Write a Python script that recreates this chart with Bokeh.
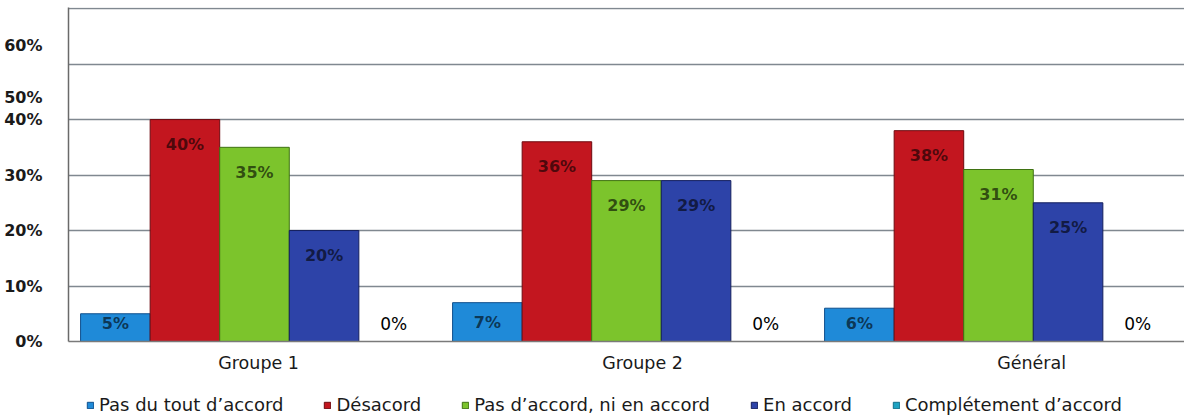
from bokeh.plotting import figure
from bokeh.layouts import column
from bokeh.models import ColumnDataSource, Range1d, FixedTicker, Legend, LegendItem
from bokeh.core.properties import value
from bokeh.embed import file_html
from bokeh.resources import INLINE

# --- data -------------------------------------------------------------
groups = ["Groupe 1", "Groupe 2", "Général"]
series_names = [
    "Pas du tout d’accord",
    "Désacord",
    "Pas d’accord, ni en accord",
    "En accord",
    "Complétement d’accord",
]
pas_du_tout = [5, 7, 6]
desacord = [40, 36, 38]
ni_ni = [35, 29, 31]
en_accord = [20, 29, 25]
completement = [0, 0, 0]
all_values = [pas_du_tout, desacord, ni_ni, en_accord, completement]

# y-axis labels as printed on the chart
y_tick_labels = ["0%", "10%", "20%", "30%", "40%", "50%", "60%"]
y_tick_pos = [0, 10, 20, 30, 40, 44, 53.3]
grid_pos = [0, 10, 20, 30, 40, 50, 60]

# --- styling ----------------------------------------------------------
fills = ["#1f8ad8", "#c3161f", "#7cc42c", "#2d43a8", "#1ea3c2"]
edges = ["#0f4f8c", "#6e0a10", "#3f7212", "#141f5e", None]
FONT = "DejaVu Sans"
bar_w = 0.187
group_x = [i + 0.5 for i in range(len(groups))]
label_x = [0.511, 1.543, 2.589]

p = figure(
    width=1184, height=375,
    x_range=Range1d(0, len(groups)), y_range=Range1d(0, 60.2),
    output_backend="svg", toolbar_location=None,
    min_border_left=68, min_border_right=0, min_border_top=7, min_border_bottom=30,
)
p.outline_line_color = None
p.background_fill_color = "white"
p.border_fill_color = "white"

sources = []
for k, (name, vals) in enumerate(zip(series_names, all_values)):
    off = (k - 2) * bar_w
    xs = [g + off for g in group_x]
    lab_y = [max(v - 4.5, v / 2, 3.2) for v in vals]
    zero = [v == 0 for v in vals]
    src = ColumnDataSource(dict(
        x=xs, top=vals, ly=lab_y,
        txt=[f"{v}%" for v in vals],
        talpha=[1.0 if z else 0.62 for z in zero],
        tstyle=["normal" if z else "bold" for z in zero],
        tsize=["17px" if z else "16px" for z in zero],
    ))
    sources.append(src)
    p.vbar(x="x", top="top", bottom=0, width=bar_w, source=src,
           fill_color=fills[k],
           line_color=edges[k] if edges[k] else fills[k],
           line_alpha=1.0 if edges[k] else 0.0, line_width=1)
    p.text(x="x", y="ly", text="txt", source=src,
           text_align="center", text_baseline="middle",
           text_font=value(FONT), text_font_size="tsize", text_font_style="tstyle",
           text_color="#000000", text_alpha="talpha")

# axes
p.yaxis.ticker = FixedTicker(ticks=y_tick_pos)
p.yaxis.major_label_overrides = {t: s for t, s in zip(y_tick_pos, y_tick_labels)}
p.yaxis.major_label_text_font = FONT
p.yaxis.major_label_text_font_size = "16px"
p.yaxis.major_label_text_font_style = "bold"
p.yaxis.major_label_text_color = "#1a1a1a"
p.yaxis.major_label_standoff = 20
p.yaxis.major_tick_line_color = None
p.yaxis.minor_tick_line_color = None
p.yaxis.axis_line_color = "#6a6a6a"
p.yaxis.axis_line_width = 1.5

p.xaxis.ticker = FixedTicker(ticks=label_x)
p.xaxis.major_label_overrides = {t: s for t, s in zip(label_x, groups)}
p.xaxis.major_label_text_font = FONT
p.xaxis.major_label_text_font_size = "17.5px"
p.xaxis.major_label_text_color = "#1a1a1a"
p.xaxis.major_label_standoff = 5
p.xaxis.major_tick_line_color = None
p.xaxis.minor_tick_line_color = None
p.xaxis.axis_line_color = "#7a7a7a"
p.xaxis.axis_line_width = 1.5

p.xgrid.grid_line_color = None
p.ygrid.ticker = FixedTicker(ticks=grid_pos)
p.ygrid.grid_line_color = "#808890"
p.ygrid.grid_line_width = 1.5

# legend strip underneath the chart (hidden copies of the series supply the swatches)
lg = figure(width=1184, height=42, x_range=Range1d(0, 1), y_range=Range1d(0, 1),
            output_backend="svg", toolbar_location=None,
            x_axis_type=None, y_axis_type=None,
            min_border_left=0, min_border_right=0, min_border_top=0, min_border_bottom=0)
lg.outline_line_color = None
lg.xgrid.visible = False
lg.ygrid.visible = False
items = []
for k, name in enumerate(series_names):
    r = lg.vbar(x="x", top="top", width=bar_w, source=sources[k],
                fill_color=fills[k],
                line_color=edges[k] if edges[k] else "#12708a", line_width=1,
                visible=False)
    items.append(LegendItem(label=name, renderers=[r]))
legend = Legend(items=items, orientation="horizontal", location=(18, 2),
                glyph_width=8, glyph_height=8, label_standoff=5, spacing=40,
                label_text_font=FONT, label_text_font_size="18px",
                label_text_color="#1a1a1a", border_line_color=None,
                background_fill_alpha=0, padding=0, margin=0,
                click_policy="none")
lg.add_layout(legend, "center")

layout = column(p, lg, spacing=0)
open("out.html", "w").write(file_html(layout, INLINE))
